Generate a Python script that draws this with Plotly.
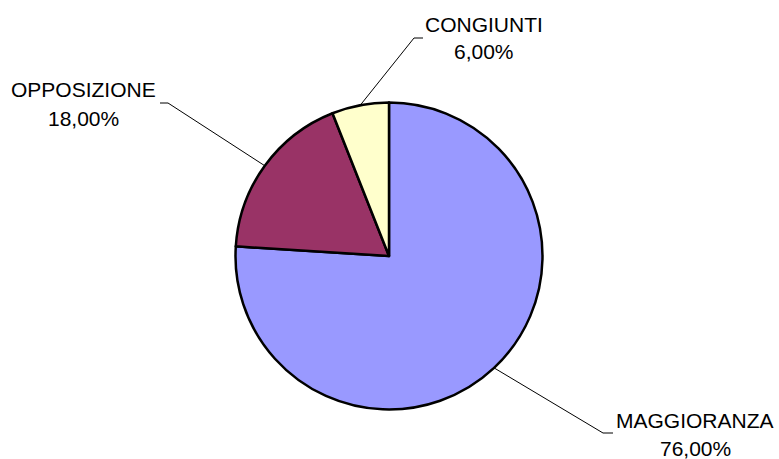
import math
import plotly.graph_objects as go

# Slice data
labels = ["MAGGIORANZA", "OPPOSIZIONE", "CONGIUNTI"]
values = [76.0, 18.0, 6.0]
colors = ["#9999FF", "#993366", "#FFFFCC"]

W, H = 779, 459
CX, CY, R = 389.0, 256.0, 153.5

# Label anchor points (pixels): name line, percent line, leader elbow, leader end
label_name_pos = {"MAGGIORANZA": (695, 420), "OPPOSIZIONE": (83, 90), "CONGIUNTI": (484, 24)}
label_pct_pos = {"MAGGIORANZA": (695, 448), "OPPOSIZIONE": (83, 118), "CONGIUNTI": (484, 52)}
leader_elbow = {"MAGGIORANZA": (603, 433), "OPPOSIZIONE": (168, 103), "CONGIUNTI": (414, 38)}
leader_end = {"MAGGIORANZA": (613, 433), "OPPOSIZIONE": (160, 103), "CONGIUNTI": (423, 38)}


def px(x):
    return x / W


def py(y):
    return 1 - y / H


def fmt_pct(v, total):
    return f"{v / total * 100:.2f}".replace(".", ",") + "%"


fig = go.Figure(
    go.Pie(
        labels=labels,
        values=values,
        sort=False,
        direction="clockwise",
        rotation=0,
        marker=dict(colors=colors, line=dict(color="black", width=2.5)),
        textinfo="none",
        hoverinfo="skip",
        showlegend=False,
        domain=dict(x=[px(CX - R), px(CX + R)], y=[py(CY + R), py(CY - R)]),
    )
)

total = sum(values)
font = dict(family="Liberation Sans, Arial, sans-serif", size=21, color="black")
shapes = []
annotations = []
cum = 0.0
for lab, val in zip(labels, values):
    mid = (cum + val / 2) / total * 2 * math.pi
    cum += val
    sx = CX + R * math.sin(mid)
    sy = CY - R * math.cos(mid)
    ex, ey = leader_elbow[lab]
    tx, ty = leader_end[lab]
    path = f"M {px(sx)} {py(sy)} L {px(ex)} {py(ey)} L {px(tx)} {py(ty)}"
    shapes.append(dict(type="path", xref="paper", yref="paper", path=path,
                       line=dict(color="black", width=1)))
    nx, ny = label_name_pos[lab]
    annotations.append(dict(x=px(nx), y=py(ny), xref="paper", yref="paper", text=lab,
                            showarrow=False, font=font, xanchor="center", yanchor="middle"))
    qx, qy = label_pct_pos[lab]
    annotations.append(dict(x=px(qx), y=py(qy), xref="paper", yref="paper",
                            text=fmt_pct(val, total), showarrow=False, font=font,
                            xanchor="center", yanchor="middle"))

fig.update_layout(
    width=W,
    height=H,
    margin=dict(l=0, r=0, t=0, b=0),
    paper_bgcolor="white",
    plot_bgcolor="white",
    shapes=shapes,
    annotations=annotations,
)

fig.write_html("out.html")
